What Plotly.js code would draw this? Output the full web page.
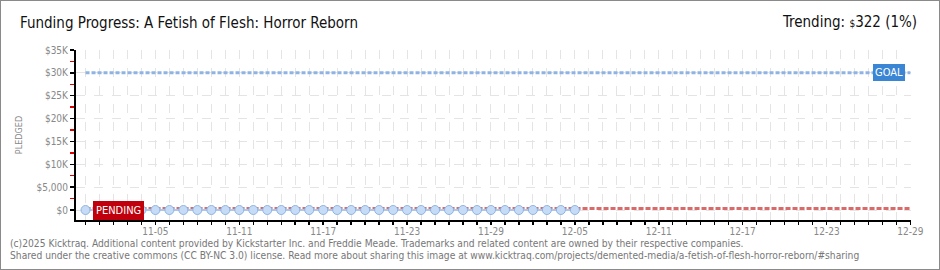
<!DOCTYPE html>
<html><head><meta charset="utf-8">
<script src="https://cdn.plot.ly/plotly-3.0.1.min.js"></script>
<style>
html,body{margin:0;padding:0;background:#fff;}
#wrap{position:relative;width:940px;height:270px;}
#chart{width:940px;height:270px;}
#frame{position:absolute;left:0;top:0;width:938px;height:268px;border:1px solid #8a8a8a;pointer-events:none;}
</style></head>
<body>
<div id="wrap"><div id="chart"></div><div id="frame"></div></div>
<script>
const chartTitle = "Funding Progress: A Fetish of Flesh: Horror Reborn";
const trendingText = "Trending: <span style='font-size:10px'>$</span>322 (1%)";
const pledgedDates = ["2025-10-31","2025-11-01","2025-11-02","2025-11-03","2025-11-04","2025-11-05","2025-11-06","2025-11-07","2025-11-08","2025-11-09","2025-11-10","2025-11-11","2025-11-12","2025-11-13","2025-11-14","2025-11-15","2025-11-16","2025-11-17","2025-11-18","2025-11-19","2025-11-20","2025-11-21","2025-11-22","2025-11-23","2025-11-24","2025-11-25","2025-11-26","2025-11-27","2025-11-28","2025-11-29","2025-11-30","2025-12-01","2025-12-02","2025-12-03","2025-12-04","2025-12-05"];
const pledgedValues = [0,0,0,0,0,0,0,0,0,0,0,0,0,0,0,0,0,0,0,0,0,0,0,0,0,0,0,0,0,0,0,0,0,0,0,0];
const trendDates = ["2025-10-31","2025-12-29"];
const trendValues = [322,322];
const goalDates = ["2025-10-31","2025-12-29"];
const goalValues = [30000,30000];
const xTickVals = ["2025-11-05","2025-11-11","2025-11-17","2025-11-23","2025-11-29","2025-12-05","2025-12-11","2025-12-17","2025-12-23","2025-12-29"];
const xTickText = ["11-05","11-11","11-17","11-23","11-29","12-05","12-11","12-17","12-23","12-29"];
const yTickVals = [0,5000,10000,15000,20000,25000,30000,35000];
const yTickText = ["$0","$5,000","$10K","$15K","$20K","$25K","$30K","$35K"];
const footer1 = "(c)2025 Kicktraq. Additional content provided by Kickstarter Inc. and Freddie Meade. Trademarks and related content are owned by their respective companies.";
const footer2 = "Shared under the creative commons (CC BY-NC 3.0) license. Read more about sharing this image at www.kicktraq.com/projects/demented-media/a-fetish-of-flesh-horror-reborn/#sharing";

const traces = [
  {x: goalDates, y: goalValues, mode:'lines', line:{color:'#8fb4e3', width:3, dash:'4px,2px'}, hoverinfo:'skip'},
  {x: trendDates, y: trendValues, mode:'lines', line:{color:'#d86a6a', width:3, dash:'5px,2px'}, hoverinfo:'skip'},
  {x: pledgedDates, y: pledgedValues, mode:'lines+markers', line:{color:'#a9c8ee', width:2},
   marker:{size:9, color:'#c6dcf6', line:{color:'#8fb4e3', width:1}}}
];

// plot area: x 76..911, y 50..220 (pixels)
const px = v => (v - 76) / 835;
const py = v => (220 - v) / 170;

const layout = {
  width:940, height:270,
  margin:{l:76, r:29, t:50, b:50},
  paper_bgcolor:'#fff', plot_bgcolor:'#fff',
  showlegend:false,
  font:{family:'DejaVu Sans Condensed, DejaVu Sans, sans-serif', color:'#888', size:10},
  title:{text: chartTitle, x: 20/940, xref:'container', xanchor:'left', y: 1-23/270, yref:'container', yanchor:'middle',
         font:{family:'DejaVu Sans Condensed, sans-serif', size:15, color:'#111'}},
  xaxis:{type:'date', range:['2025-10-30 07:40','2025-12-29 01:00'],
    tickvals: xTickVals, ticktext: xTickText, ticks:'outside', ticklen:3, tickcolor:'#000', tickwidth:1.5,
    ticklabelstandoff:-2,
    showline:true, linecolor:'#000', linewidth:2, zeroline:false,
    showgrid:true, gridcolor:'#e4e4e4', griddash:'dash', gridwidth:1,
    tickfont:{size:10, color:'#888'},
    minor:{dtick:86400000, tick0:'2025-10-31', ticks:'outside', ticklen:3, tickcolor:'#000', tickwidth:1.5,
           showgrid:true, gridcolor:'#e4e4e4', griddash:'dash', gridwidth:1}},
  yaxis:{range:[-2188,35000], tickvals: yTickVals, ticktext: yTickText, ticks:'outside', ticklen:4, tickcolor:'#000', tickwidth:1.5,
    showline:true, linecolor:'#000', linewidth:2, zeroline:false,
    showgrid:true, gridcolor:'#e4e4e4', griddash:'dash', gridwidth:1,
    tickfont:{size:10, color:'#888'},
    title:{text:'PLEDGED', standoff:12, font:{size:9, color:'#888'}},
    minor:{dtick:2500, tick0:0, ticks:'outside', ticklen:4, tickcolor:'#e00000', tickwidth:1.5, showgrid:false}},
  annotations:[
    {xref:'paper', yref:'paper', x: px(919), y: py(22), xanchor:'right', yanchor:'middle', showarrow:false,
     text: trendingText, font:{family:'DejaVu Sans Condensed, sans-serif', size:15, color:'#111'}},
    {x:'2025-12-29', y:30000, xanchor:'right', yanchor:'middle', xshift:-5, showarrow:false, text:'GOAL',
     bgcolor:'#3a86d4', bordercolor:'#3a86d4', borderpad:1, font:{size:11, color:'#fff'}},
    {x:'2025-10-31', y:0, xanchor:'left', yanchor:'middle', xshift:7, showarrow:false, text:'PENDING',
     bgcolor:'#c0000c', bordercolor:'#c0000c', borderpad:2, font:{size:11, color:'#fff'}},
    {xref:'paper', yref:'paper', x: px(8), y: py(243), xanchor:'left', yanchor:'middle', showarrow:false,
     text: footer1, font:{family:'DejaVu Sans Condensed, sans-serif', size:10.2, color:'#777'}},
    {xref:'paper', yref:'paper', x: px(8), y: py(256), xanchor:'left', yanchor:'middle', showarrow:false,
     text: footer2, font:{family:'DejaVu Sans Condensed, sans-serif', size:10.2, color:'#777'}}
  ]
};
Plotly.newPlot('chart', traces, layout, {displayModeBar:false, staticPlot:true});
</script>
</body></html>
